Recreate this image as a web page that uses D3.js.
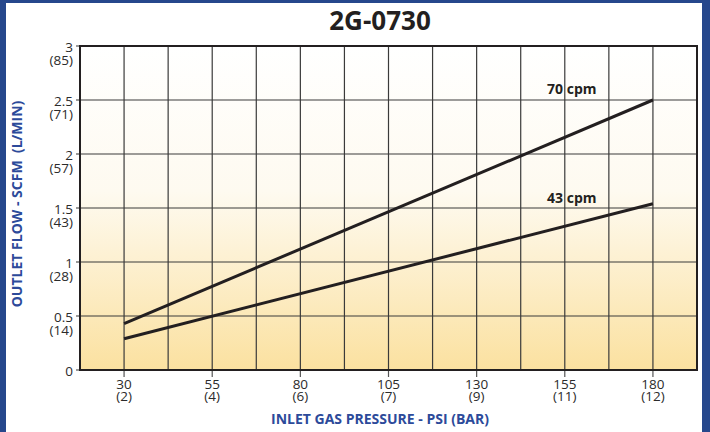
<!DOCTYPE html>
<html lang="en">
<head>
    <meta charset="UTF-8">
    <title>2G-0730</title>
    <script src="https://d3js.org/d3.v7.min.js"></script>
    <style>
        body {
            margin: 0;
            overflow: hidden;
            background: #fff;
        }
        text {
            font-family: "Open Sans", "Noto Sans", sans-serif;
        }
        .tick-label {
            font-size: 13.5px;
            fill: #2b2b2b;
        }
        .axis-title {
            font-size: 14px;
            font-weight: bold;
            fill: #2c4a9a;
        }
    </style>
</head>
<body>
    <script>
        const width = 710;
        const height = 432;

        // x ticks: psi and bar
        const psiTicks = [30, 55, 80, 105, 130, 155, 180];
        const barTicks = ["(2)", "(4)", "(6)", "(7)", "(9)", "(11)", "(12)"];
        // y ticks: scfm and l/min
        const scfmTicks = [0, 0.5, 1, 1.5, 2, 2.5, 3];
        const lpmTicks = ["", "(14)", "(28)", "(43)", "(57)", "(71)", "(85)"];

        // series (psi, scfm)
        const psi = [30, 180];
        const flow70 = [0.43, 2.5];
        const flow43 = [0.29, 1.54];
        const seriesNames = ["70 cpm", "43 cpm"];

        const margin = {left: 80, right: 13, top: 46, bottom: 62};

        const x = d3.scaleLinear().domain([17.5, 192.5]).range([margin.left, width - margin.right]);
        const y = d3.scaleLinear().domain([0, 3]).range([height - margin.bottom, margin.top]);

        const svg = d3.select("body").append("svg")
            .attr("width", width)
            .attr("height", height);

        // blue page frame
        svg.append("rect").attr("x", 0).attr("y", 0).attr("width", width).attr("height", height).attr("fill", "#26478c");
        svg.append("rect").attr("x", 6).attr("y", 3).attr("width", 696).attr("height", height).attr("fill", "#fff");

        const defs = svg.append("defs");
        const grad = defs.append("linearGradient").attr("id", "bg").attr("x1", 0).attr("y1", 0).attr("x2", 0).attr("y2", 1);
        grad.append("stop").attr("offset", "0%").attr("stop-color", "#ffffff");
        grad.append("stop").attr("offset", "45%").attr("stop-color", "#fefaf0");
        grad.append("stop").attr("offset", "100%").attr("stop-color", "#fbe1a0");

        svg.append("rect")
            .attr("x", x.range()[0]).attr("y", y.range()[1])
            .attr("width", x.range()[1] - x.range()[0])
            .attr("height", y.range()[0] - y.range()[1])
            .attr("fill", "url(#bg)");

        // grid
        const xGrid = d3.range(30, 192.5, 12.5);
        svg.append("g").selectAll("line").data(xGrid).join("line")
            .attr("x1", d => x(d)).attr("x2", d => x(d))
            .attr("y1", y(3)).attr("y2", y(0))
            .attr("stroke", "#3a3a3a").attr("stroke-width", 1.2);
        svg.append("g").selectAll("line").data(scfmTicks.slice(1, -1)).join("line")
            .attr("x1", x(17.5)).attr("x2", x(192.5))
            .attr("y1", d => y(d)).attr("y2", d => y(d))
            .attr("stroke", "#3a3a3a").attr("stroke-width", 1.2);

        // tick marks
        svg.append("g").selectAll("line").data(psiTicks).join("line")
            .attr("x1", d => x(d)).attr("x2", d => x(d))
            .attr("y1", y(0)).attr("y2", y(0) + 7)
            .attr("stroke", "#555").attr("stroke-width", 1.2);
        svg.append("g").selectAll("line").data(scfmTicks).join("line")
            .attr("x1", x(17.5) - 4).attr("x2", x(17.5))
            .attr("y1", d => y(d)).attr("y2", d => y(d))
            .attr("stroke", "#555").attr("stroke-width", 1.2);

        // frame
        svg.append("rect")
            .attr("x", x.range()[0]).attr("y", y.range()[1])
            .attr("width", x.range()[1] - x.range()[0])
            .attr("height", y.range()[0] - y.range()[1])
            .attr("fill", "none").attr("stroke", "#231f20").attr("stroke-width", 2);

        // x tick labels
        const xl = svg.append("g").selectAll("g").data(psiTicks).join("g")
            .attr("transform", d => `translate(${x(d)},0)`);
        xl.append("text").attr("class", "tick-label").attr("text-anchor", "middle")
            .attr("y", y(0) + 19).text(d => d);
        xl.append("text").attr("class", "tick-label").attr("text-anchor", "middle")
            .attr("y", y(0) + 31).text((d, i) => barTicks[i]);

        // y tick labels
        const yl = svg.append("g").selectAll("g").data(scfmTicks).join("g")
            .attr("transform", d => `translate(${x(17.5) - 7},${y(d)})`);
        yl.append("text").attr("class", "tick-label").attr("text-anchor", "end")
            .attr("y", 6).text(d => d);
        yl.append("text").attr("class", "tick-label").attr("text-anchor", "end")
            .attr("y", 19).text((d, i) => lpmTicks[i]);

        // series lines
        const line = d3.line().x(d => x(d[0])).y(d => y(d[1]));
        const labelDy = [-6, -1];
        [flow70, flow43].forEach((vals, k) => {
            const pts = psi.map((p, i) => [p, vals[i]]);
            svg.append("path").datum(pts)
                .attr("d", line)
                .attr("fill", "none")
                .attr("stroke", "#231f20")
                .attr("stroke-width", 3);
            svg.append("text")
                .attr("x", x(157)).attr("y", y(vals[1]) + labelDy[k])
                .attr("text-anchor", "middle")
                .attr("font-size", "14px").attr("font-weight", "bold")
                .attr("fill", "#231f20")
                .text(seriesNames[k]);
        });

        // titles
        svg.append("text")
            .attr("x", 380).attr("y", 30)
            .attr("text-anchor", "middle")
            .attr("font-size", "26px").attr("font-weight", "bold")
            .attr("fill", "#231f20")
            .text("2G-0730");

        svg.append("text").attr("class", "axis-title")
            .attr("x", 380).attr("y", 424)
            .attr("text-anchor", "middle")
            .text("INLET GAS PRESSURE - PSI (BAR)");

        svg.append("text").attr("class", "axis-title")
            .attr("transform", "translate(22,204) rotate(-90)")
            .attr("text-anchor", "middle")
            .attr("xml:space", "preserve")
            .text("OUTLET FLOW - SCFM  (L/MIN)");
    </script>
</body>
</html>
